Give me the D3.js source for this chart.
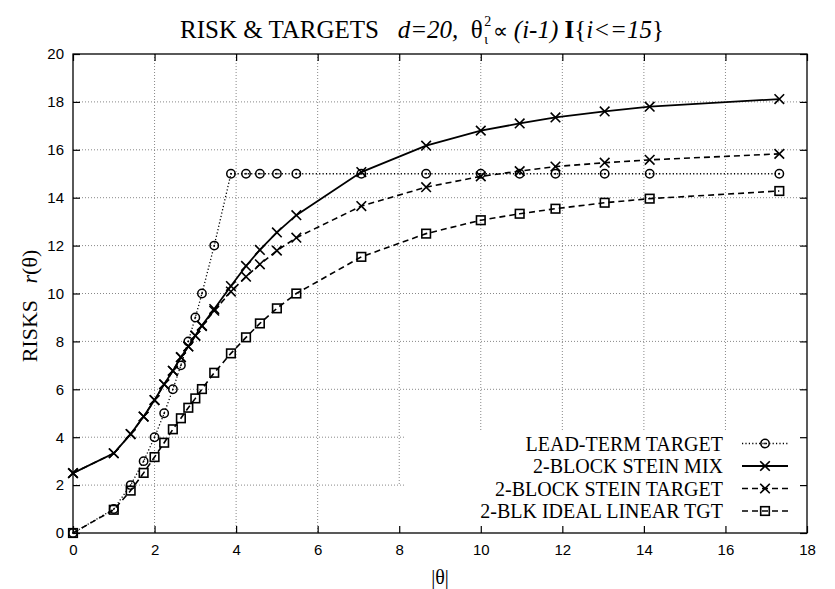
<!DOCTYPE html>
<html><head><meta charset="utf-8">
<script src="https://cdn.jsdelivr.net/npm/d3@7"></script>
<style>body{margin:0;background:#fff}</style>
</head><body><svg id="c" width="835" height="589"></svg>
<script>
// ---------- data ----------
const absTheta   = [0, 1, 1.414, 1.732, 2, 2.236, 2.449, 2.646, 2.828, 3, 3.162, 3.464, 3.873, 4.243, 4.583, 5, 5.477, 7.071, 8.660, 10, 10.954, 11.832, 13.038, 14.142, 17.321];
const leadTerm   = [0, 1, 2, 3, 4, 5, 6, 7, 8, 9, 10, 12, 15, 15, 15, 15, 15, 15, 15, 15, 15, 15, 15, 15, 15];
const steinMix   = [2.5, 3.33, 4.13, 4.86, 5.55, 6.21, 6.77, 7.34, 7.79, 8.24, 8.66, 9.35, 10.31, 11.15, 11.82, 12.55, 13.27, 15.07, 16.17, 16.8, 17.1, 17.35, 17.6, 17.8, 18.12];
const steinTarget= [2.5, 3.33, 4.13, 4.86, 5.55, 6.21, 6.77, 7.34, 7.79, 8.24, 8.64, 9.28, 10.08, 10.70, 11.22, 11.79, 12.33, 13.65, 14.44, 14.89, 15.11, 15.3, 15.46, 15.58, 15.83];
const idealLin   = [0, 0.97, 1.77, 2.51, 3.17, 3.77, 4.33, 4.79, 5.23, 5.62, 6.01, 6.69, 7.5, 8.17, 8.75, 9.38, 10.0, 11.53, 12.5, 13.06, 13.33, 13.54, 13.79, 13.96, 14.28];
const seriesNames = ["LEAD-TERM TARGET", "2-BLOCK STEIN MIX", "2-BLOCK STEIN TARGET", "2-BLK IDEAL LINEAR TGT"];
const xTicks = [0, 2, 4, 6, 8, 10, 12, 14, 16, 18];
const yTicks = [0, 2, 4, 6, 8, 10, 12, 14, 16, 18, 20];

// ---------- layout ----------
const W = 835, H = 589, m = {l: 73, r: 28, t: 54, b: 56};
const svg = d3.select("#c");
const x = d3.scaleLinear().domain([0, 18]).range([m.l, W - m.r]);
const y = d3.scaleLinear().domain([0, 20]).range([H - m.b, m.t]);
const serif = "'Liberation Serif','Times New Roman',serif";
const sans = "'Liberation Sans',Arial,sans-serif";
const keyLeft = 405, keyTop = 430;

// ---------- grid ----------
const grid = svg.append("g").attr("stroke", "#888").attr("stroke-width", 1).attr("stroke-dasharray", "1,2").attr("fill", "none");
xTicks.filter(v => v > 0 && v < 18).forEach(v => {
  const px = x(v);
  let y2 = y(0);
  if (px > keyLeft) y2 = keyTop; else if (px > keyLeft - 12) y2 = y(2);
  grid.append("line").attr("x1", px).attr("x2", px).attr("y1", y(20)).attr("y2", y2);
});
yTicks.filter(v => v > 0 && v < 20).forEach(v => {
  const py = y(v);
  const x2 = py > keyTop ? keyLeft : x(18);
  grid.append("line").attr("x1", x(0)).attr("x2", x2).attr("y1", py).attr("y2", py);
});

// ---------- axes ----------
const tickLen = 7;
const ax = svg.append("g").attr("transform", `translate(0,${y(0)})`)
  .call(d3.axisBottom(x).tickValues(xTicks).tickSizeInner(-tickLen).tickSizeOuter(0).tickPadding(11));
const ay = svg.append("g").attr("transform", `translate(${x(0)},0)`)
  .call(d3.axisLeft(y).tickValues(yTicks).tickSizeInner(-tickLen).tickSizeOuter(0).tickPadding(9));
const axT = svg.append("g").attr("transform", `translate(0,${y(20)})`)
  .call(d3.axisTop(x).tickValues(xTicks).tickSizeInner(-tickLen).tickSizeOuter(0).tickFormat(""));
const ayR = svg.append("g").attr("transform", `translate(${x(18)},0)`)
  .call(d3.axisRight(y).tickValues(yTicks).tickSizeInner(-tickLen).tickSizeOuter(0).tickFormat(""));
[ax, ay, axT, ayR].forEach(g => {
  g.select(".domain").remove();
  g.selectAll(".tick line").attr("stroke", "#000").attr("stroke-width", 1.2);
  g.selectAll("text").attr("font-family", sans).attr("font-size", 15).attr("fill", "#000");
});
svg.append("rect").attr("x", x(0)).attr("y", y(20)).attr("width", x(18) - x(0)).attr("height", y(0) - y(20))
  .attr("fill", "none").attr("stroke", "#000").attr("stroke-width", 1.3);

// ---------- series ----------
const styles = [
  {vals: leadTerm,    dash: "1.2,2.2", w: 1.3, mark: "circle"},
  {vals: steinMix,    dash: null,      w: 1.8, mark: "x"},
  {vals: steinTarget, dash: "6,4",     w: 1.6, mark: "x"},
  {vals: idealLin,    dash: "6,4",     w: 1.6, mark: "square"}
];
function drawMarker(g, kind, cx, cy) {
  if (kind === "x") {
    g.append("path").attr("d", `M${cx-4.8},${cy-4.8}L${cx+4.8},${cy+4.8}M${cx-4.8},${cy+4.8}L${cx+4.8},${cy-4.8}`)
      .attr("stroke", "#000").attr("stroke-width", 1.6).attr("fill", "none");
  } else if (kind === "circle") {
    g.append("circle").attr("cx", cx).attr("cy", cy).attr("r", 4.2)
      .attr("stroke", "#000").attr("stroke-width", 1.5).attr("fill", "none");
    g.append("circle").attr("cx", cx).attr("cy", cy).attr("r", 0.9).attr("fill", "#000");
  } else {
    g.append("rect").attr("x", cx - 4.3).attr("y", cy - 4.3).attr("width", 8.6).attr("height", 8.6)
      .attr("stroke", "#000").attr("stroke-width", 1.6).attr("fill", "none");
  }
}
const line = d3.line();
styles.forEach(s => {
  const pts = absTheta.map((t, i) => [x(t), y(s.vals[i])]);
  const g = svg.append("g");
  g.append("path").attr("d", line(pts)).attr("fill", "none").attr("stroke", "#000")
    .attr("stroke-width", s.w).attr("stroke-dasharray", s.dash);
  pts.forEach(p => drawMarker(g, s.mark, p[0], p[1]));
});

// ---------- legend ----------
const legRight = 723, legY0 = 443.5, legDy = 22.5, sx1 = 742, sx2 = 788;
styles.forEach((s, i) => {
  const cy = legY0 + i * legDy;
  const g = svg.append("g");
  g.append("text").attr("x", legRight).attr("y", cy + 7).attr("text-anchor", "end")
    .attr("font-family", serif).attr("font-size", 20).text(seriesNames[i]);
  g.append("line").attr("x1", sx1).attr("x2", sx2).attr("y1", cy).attr("y2", cy)
    .attr("stroke", "#000").attr("stroke-width", s.w).attr("stroke-dasharray", s.dash);
  drawMarker(g, s.mark, (sx1 + sx2) / 2, cy);
});

// ---------- title ----------
const t = svg.append("text").attr("x", 180).attr("y", 38).attr("font-family", serif).attr("font-size", 25).attr("fill", "#000");
t.append("tspan").text("RISK & TARGETS\u00a0\u00a0\u00a0");
t.append("tspan").attr("font-style", "italic").text("d=20,");
t.append("tspan").text("\u00a0\u00a0θ");
t.append("tspan").attr("font-size", 14).attr("dx", 1.5).attr("dy", -12).text("2");
t.append("tspan").attr("font-size", 14).attr("dx", -7).attr("dy", 18).text("ι");
t.append("tspan").attr("font-size", 21).attr("dx", 4.5).attr("dy", -6).text("∝");
t.append("tspan").attr("font-style", "italic").text("\u00a0(i-1)\u00a0");
t.append("tspan").attr("font-weight", "bold").text("I");
t.append("tspan").text("{");
t.append("tspan").attr("font-style", "italic").text("i<=15");
t.append("tspan").text("}");

// ---------- axis labels ----------
const yl = svg.append("text").attr("transform", "translate(37,306) rotate(-90)").attr("text-anchor", "middle")
  .attr("font-family", serif).attr("font-size", 22);
yl.append("tspan").text("RISKS\u00a0\u00a0\u00a0");
yl.append("tspan").attr("font-style", "italic").text("r");
yl.append("tspan").text("(θ)");
svg.append("text").attr("x", (x(0) + x(18)) / 2).attr("y", 584).attr("text-anchor", "middle")
  .attr("font-family", serif).attr("font-size", 20).text("|θ|");
</script>
</body></html>
